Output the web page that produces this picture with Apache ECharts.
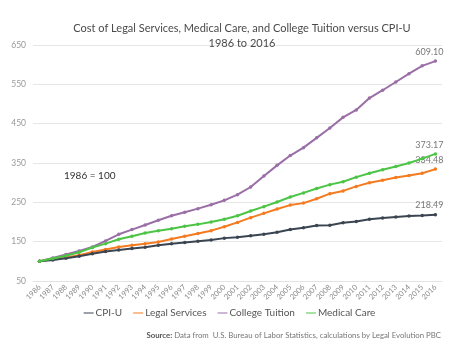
<!DOCTYPE html>
<html>
<head>
<meta charset="utf-8">
<script src="https://cdn.jsdelivr.net/npm/echarts@6/dist/echarts.min.js"></script>
<style>
  html, body { margin: 0; padding: 0; background: #fff; }
  #chart { width: 459px; height: 344px; }
</style>
</head>
<body>
<div id="chart"></div>
<script>
// Price indexes, 1986 = 100
const years = ['1986','1987','1988','1989','1990','1991','1992','1993','1994','1995','1996','1997','1998','1999','2000','2001','2002','2003','2004','2005','2006','2007','2008','2009','2010','2011','2012','2013','2014','2015','2016'];
const cpiU = [100, 103.6, 108, 113, 119.5, 125, 129, 132.5, 136, 141, 145, 148, 151, 154, 159, 161, 165, 169, 174, 181, 185.6, 191, 192, 198, 201, 207, 210, 212.5, 215, 216.5, 218.49];
const legalServices = [100, 105, 109.5, 115.5, 124, 130, 136.5, 141, 145, 149, 157, 164, 171, 178, 188, 199, 211, 222, 233, 243, 248, 259, 272, 279, 290.5, 300, 306, 313, 318.5, 324, 334.48];
const collegeTuition = [100, 108.6, 117.3, 126.4, 136.5, 151.8, 168.8, 180.7, 192.4, 204.3, 216, 225, 234, 244, 255, 269.5, 289, 317, 344, 369, 389, 414, 439, 466, 485, 515, 535, 556, 577, 597, 609.10];
const medicalCare = [100, 107, 114, 123, 135, 145, 156, 164, 172, 178, 183, 189, 194, 200, 207, 216, 228, 239, 251, 263.5, 274, 285, 295, 302.5, 314, 324, 333, 341, 350, 361, 373.17];
const yTicks = { min: 50, max: 650, step: 100 };

const FONT = 'Lato, "Open Sans", sans-serif';

function series(name, data, color, z) {
  const last = data.length - 1;
  return {
    name: name,
    type: 'line',
    data: data.map((v, i) => i === last ? {
      value: v,
      label: {
        show: true, position: 'top', distance: 3, offset: [-6, 0],
        formatter: p => p.value.toFixed(2),
        color: '#777', fontSize: 9, fontFamily: FONT
      }
    } : v),
    z: z,
    symbol: 'circle',
    symbolSize: 3.5,
    showSymbol: true,
    lineStyle: { color: color, width: 2 },
    itemStyle: { color: color },
    emphasis: { disabled: true }
  };
}

const chart = echarts.init(document.getElementById('chart'), null, { renderer: 'canvas' });
chart.setOption({
  animation: false,
  backgroundColor: '#fff',
  textStyle: { fontFamily: FONT },
  title: {
    text: 'Cost of Legal Services, Medical Care, and College Tuition versus CPI-U\n1986 to 2016',
    left: 237, top: 16, textAlign: 'center',
    textStyle: { fontSize: 11, fontWeight: 'normal', color: '#4a4a4a', lineHeight: 15, fontFamily: FONT }
  },
  grid: { left: 33, right: 17, top: 45, bottom: 63 },
  legend: {
    bottom: 21, left: 'center',
    itemWidth: 10, itemHeight: 6, itemGap: 11,
    icon: 'path://M0,2.5 L10,2.5 L10,3.5 L0,3.5 Z',
    textStyle: { fontSize: 10, color: '#555', fontFamily: FONT, padding: [0, 0, 0, -3] },
    data: ['CPI-U', 'Legal Services', 'College Tuition', 'Medical Care']
  },
  xAxis: {
    type: 'category',
    data: years,
    boundaryGap: true,
    axisLine: { show: true, lineStyle: { color: '#e3e3e3' } },
    axisTick: { show: false },
    axisLabel: { interval: 0, rotate: 45, fontSize: 7.5, color: '#888', margin: 5, fontFamily: FONT }
  },
  yAxis: {
    type: 'value',
    min: yTicks.min, max: yTicks.max, interval: yTicks.step,
    axisLine: { show: false },
    axisTick: { show: false },
    axisLabel: { fontSize: 8.5, color: '#999', margin: 7, fontFamily: FONT },
    splitLine: { lineStyle: { color: '#e6e6e6', width: 1 } }
  },
  graphic: [
    {
      type: 'text', left: 64, top: 171,
      style: { text: '1986 = 100', fontSize: 10, fill: '#333', fontFamily: FONT }
    },
    {
      type: 'text', right: 18, top: 331,
      style: {
        text: '{b|Source:} Data from  U.S. Bureau of Labor Statistics, calculations by Legal Evolution PBC',
        fontSize: 7.8, fill: '#777', fontFamily: FONT,
        rich: { b: { fontSize: 7.8, fontWeight: 'bold', fill: '#555', fontFamily: FONT } }
      }
    }
  ],
  series: [
    series('CPI-U', cpiU, '#3b4451', 4),
    series('Legal Services', legalServices, '#f47b20', 3),
    series('College Tuition', collegeTuition, '#9a6ea6', 2),
    series('Medical Care', medicalCare, '#4cc546', 5)
  ]
});
</script>
</body>
</html>
